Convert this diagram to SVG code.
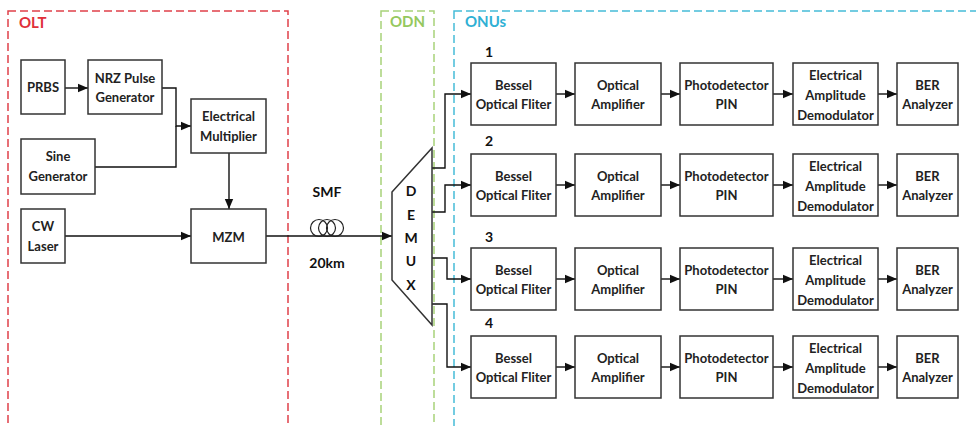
<svg xmlns="http://www.w3.org/2000/svg" width="976" height="426" viewBox="0 0 976 426">
<defs>
<marker id="ah" markerUnits="userSpaceOnUse" markerWidth="10" markerHeight="10" viewBox="0 0 10 10" refX="10" refY="5" orient="auto">
<path d="M0,0.8 L10,5 L0,9.2 Z" fill="#111"/>
</marker>
<style>
.box{fill:#fff;stroke:#333;stroke-width:1.5}
.t{font-family:Lato,"Liberation Sans",sans-serif;font-weight:700;font-size:13px;fill:#222;text-anchor:middle}
.n{font-family:Lato,"Liberation Sans",sans-serif;font-weight:700;font-size:14px;fill:#111;text-anchor:middle}
.c{fill:none;stroke:#111;stroke-width:1.4}
.a{marker-end:url(#ah)}
.zone{fill:none;stroke-width:1.5;stroke-dasharray:8 4}
.zl{font-family:Lato,"Liberation Sans",sans-serif;font-weight:700;font-size:15px}
</style>
</defs>
<rect width="976" height="426" fill="#fff"/>

<g id="zones">
<rect class="zone" x="8" y="11" width="280" height="430" stroke="#e0404a"/>
<text class="zl" x="19" y="28" fill="#e0303a">OLT</text>
<rect class="zone" x="381" y="11" width="53" height="430" stroke="#a8d27a"/>
<text class="zl" x="390" y="27" fill="#95c85e" font-size="13">ODN</text>
<rect class="zone" x="454" y="11" width="540" height="430" stroke="#45bcd8"/>
<text class="zl" x="465" y="27" fill="#2fb0d4" font-size="13">ONUs</text>
</g>

<g id="connectors">
<path class="c a" d="M65,88 H88"/>
<path class="c a" d="M162,88 H176 V126 H191"/>
<path class="c" d="M95,167 H176 V126"/>
<path class="c a" d="M229,153 V209"/>
<path class="c a" d="M65,236 H191"/>
<path class="c a" d="M266,236 H392"/>
<path class="c a" d="M432,168 H445 V94 H471"/>
<path class="c a" d="M432,212 H445 V185 H471"/>
<path class="c a" d="M432,258 H447 V279 H471"/>
<path class="c a" d="M432,304 H447 V367 H471"/>
<path class="c a" d="M556,94 H575"/><path class="c a" d="M661,94 H680"/><path class="c a" d="M773,94 H793"/><path class="c a" d="M878,94 H897"/>
<path class="c a" d="M556,185 H575"/><path class="c a" d="M661,185 H680"/><path class="c a" d="M773,185 H793"/><path class="c a" d="M878,185 H897"/>
<path class="c a" d="M556,279 H575"/><path class="c a" d="M661,279 H680"/><path class="c a" d="M773,279 H793"/><path class="c a" d="M878,279 H897"/>
<path class="c a" d="M556,367 H575"/><path class="c a" d="M661,367 H680"/><path class="c a" d="M773,367 H793"/><path class="c a" d="M878,367 H897"/>
</g>

<g id="prbs"><rect class="box" x="21" y="60" width="44" height="54"/><text class="t" x="43" y="92">PRBS</text></g>
<g id="nrz"><rect class="box" x="88" y="60" width="74" height="54"/><text class="t" x="125" y="83">NRZ Pulse</text><text class="t" x="125" y="102">Generator</text></g>
<g id="multiplier"><rect class="box" x="191" y="99" width="75" height="54"/><text class="t" x="228.5" y="121">Electrical</text><text class="t" x="228.5" y="141">Multiplier</text></g>
<g id="sine"><rect class="box" x="21" y="139" width="74" height="55"/><text class="t" x="58" y="161">Sine</text><text class="t" x="58" y="181">Generator</text></g>
<g id="cw"><rect class="box" x="21" y="209" width="44" height="54"/><text class="t" x="43" y="231">CW</text><text class="t" x="43" y="251">Laser</text></g>
<g id="mzm"><rect class="box" x="191" y="209" width="75" height="54"/><text class="t" x="228.5" y="242" font-size="18">MZM</text></g>

<g id="smf">
<circle cx="319" cy="228" r="8.5" fill="none" stroke="#222" stroke-width="1.2"/>
<circle cx="327" cy="228" r="8.5" fill="none" stroke="#222" stroke-width="1.2"/>
<circle cx="335" cy="228" r="8.5" fill="none" stroke="#222" stroke-width="1.2"/>
<text class="n" x="327" y="197">SMF</text>
<text class="n" x="327" y="268">20km</text>
</g>

<g id="demux">
<path d="M392,192 L432,148 L432,325 L392,280 Z" fill="#fff" stroke="#333" stroke-width="1.5"/>
<text class="n" x="411" y="196">D</text>
<text class="n" x="411" y="220">E</text>
<text class="n" x="411" y="243">M</text>
<text class="n" x="411" y="266">U</text>
<text class="n" x="411" y="290">X</text>
</g>

<g id="row1">
<text class="n" x="489" y="57">1</text>
<rect class="box" x="471" y="63" width="85" height="62"/><text class="t" x="513.5" y="90">Bessel</text><text class="t" x="513.5" y="109">Optical Fliter</text>
<rect class="box" x="575" y="63" width="86" height="62"/><text class="t" x="618" y="90">Optical</text><text class="t" x="618" y="109">Amplifier</text>
<rect class="box" x="680" y="63" width="93" height="62"/><text class="t" x="726.5" y="90">Photodetector</text><text class="t" x="726.5" y="109">PIN</text>
<rect class="box" x="793" y="63" width="85" height="62"/><text class="t" x="835.5" y="80">Electrical</text><text class="t" x="835.5" y="100">Amplitude</text><text class="t" x="835.5" y="120">Demodulator</text>
<rect class="box" x="897" y="63" width="61" height="62"/><text class="t" x="927.5" y="90">BER</text><text class="t" x="927.5" y="109">Analyzer</text>
</g>
<g id="row2">
<text class="n" x="489" y="146">2</text>
<rect class="box" x="471" y="154" width="85" height="62"/><text class="t" x="513.5" y="181">Bessel</text><text class="t" x="513.5" y="200">Optical Fliter</text>
<rect class="box" x="575" y="154" width="86" height="62"/><text class="t" x="618" y="181">Optical</text><text class="t" x="618" y="200">Amplifier</text>
<rect class="box" x="680" y="154" width="93" height="62"/><text class="t" x="726.5" y="181">Photodetector</text><text class="t" x="726.5" y="200">PIN</text>
<rect class="box" x="793" y="154" width="85" height="62"/><text class="t" x="835.5" y="171">Electrical</text><text class="t" x="835.5" y="191">Amplitude</text><text class="t" x="835.5" y="211">Demodulator</text>
<rect class="box" x="897" y="154" width="61" height="62"/><text class="t" x="927.5" y="181">BER</text><text class="t" x="927.5" y="200">Analyzer</text>
</g>
<g id="row3">
<text class="n" x="489" y="242">3</text>
<rect class="box" x="471" y="248" width="85" height="62"/><text class="t" x="513.5" y="275">Bessel</text><text class="t" x="513.5" y="294">Optical Fliter</text>
<rect class="box" x="575" y="248" width="86" height="62"/><text class="t" x="618" y="275">Optical</text><text class="t" x="618" y="294">Amplifier</text>
<rect class="box" x="680" y="248" width="93" height="62"/><text class="t" x="726.5" y="275">Photodetector</text><text class="t" x="726.5" y="294">PIN</text>
<rect class="box" x="793" y="248" width="85" height="62"/><text class="t" x="835.5" y="265">Electrical</text><text class="t" x="835.5" y="285">Amplitude</text><text class="t" x="835.5" y="305">Demodulator</text>
<rect class="box" x="897" y="248" width="61" height="62"/><text class="t" x="927.5" y="275">BER</text><text class="t" x="927.5" y="294">Analyzer</text>
</g>
<g id="row4">
<text class="n" x="489" y="328">4</text>
<rect class="box" x="471" y="336" width="85" height="62"/><text class="t" x="513.5" y="363">Bessel</text><text class="t" x="513.5" y="382">Optical Fliter</text>
<rect class="box" x="575" y="336" width="86" height="62"/><text class="t" x="618" y="363">Optical</text><text class="t" x="618" y="382">Amplifier</text>
<rect class="box" x="680" y="336" width="93" height="62"/><text class="t" x="726.5" y="363">Photodetector</text><text class="t" x="726.5" y="382">PIN</text>
<rect class="box" x="793" y="336" width="85" height="62"/><text class="t" x="835.5" y="353">Electrical</text><text class="t" x="835.5" y="373">Amplitude</text><text class="t" x="835.5" y="393">Demodulator</text>
<rect class="box" x="897" y="336" width="61" height="62"/><text class="t" x="927.5" y="363">BER</text><text class="t" x="927.5" y="382">Analyzer</text>
</g>
</svg>
